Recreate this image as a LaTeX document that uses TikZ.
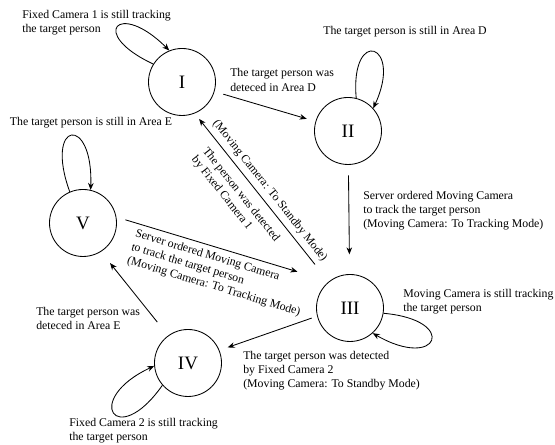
\documentclass[tikz,border=0pt]{standalone}
\usepackage{fontspec}
\setmainfont{Liberation Serif}
\usetikzlibrary{arrows.meta}

\begin{document}
\begin{tikzpicture}[>={Stealth[length=5pt,width=4pt]}, font=\fontsize{8.4}{10}\selectfont]
	\useasboundingbox (0,0) rectangle (13.875,11.125);

	\begin{scope}[every node/.style={circle,draw,line width=0.6pt,minimum size=1.675cm,inner sep=0pt,font=\fontsize{13.5}{16}\selectfont}]
		\node (I) at (4.55,9.075) {I};
		\node (II) at (8.70,7.85) {II};
		\node (III) at (8.75,3.425) {III};
		\node (IV) at (4.70,2.05) {IV};
		\node (V) at (2.075,5.55) {V};
	\end{scope}

	\begin{scope}[every node/.style={align=left,inner sep=0pt}]
		\node[anchor=west] (tI) at (0.55,10.5625) {Fixed Camera 1 is still tracking\\the target person};
		\node (tII) at (10.125,10.325) {The target person is still in Area D};
		\node[anchor=west] (tIII) at (5.75,9.125) {The target person was\\deteced in Area D};
		\node (tV) at (2.275,8.05) {The target person is still in Area E};
		\node[anchor=west] (tIIIII) at (9.075,5.85) {Server ordered Moving Camera\\to track the target person\\(Moving Camera: To Tracking Mode)};
		\node[anchor=west] (tIIIloop) at (10.075,3.5875) {Moving Camera is still tracking\\the target person};
		\node[anchor=west] (tIVV) at (0.9,3.1625) {The target person was\\deteced in Area E};
		\node[anchor=west] (tIIIIV) at (6.075,1.85) {The target person was detected\\by Fixed Camera 2\\(Moving Camera: To Standby Mode)};
		\node[anchor=west] (tIV) at (1.725,0.3625) {Fixed Camera 2 is still tracking\\the target person};
	\end{scope}

	\begin{scope}[every edge/.style={draw=black,line width=0.6pt}]
		% transitions
		\path [->] (I) edge [shorten <=6.5pt, shorten >=6.5pt] (II);
		\path [->] (II) edge [shorten <=7.5pt, shorten >=14pt] (III);
		\path [->] (III.129) edge [shorten <=15.6pt, shorten >=5pt]
			node [sloped, above, pos=0.5] (lIIIa) {(Moving Camera: To Standby Mode)}
			node [sloped, below=3pt, pos=0.57, align=left] (lIIIb) {The person was detected\\by Fixed Camera 1} (I.-68.5);
		\path [->] (V.10) edge [shorten <=6.7pt, shorten >=23.5pt]
			node [sloped, below, pos=0.51, align=left] (lVIII) {Server ordered Moving Camera\\to track the target person\\(Moving Camera: To Tracking Mode)} (III.128);
		\path [->] (III.194.7) edge [shorten <=4.1pt, shorten >=6.2pt] (IV.22.3);
		\path [->] (IV.126.2) edge [shorten <=12.3pt, shorten >=10.3pt] (V.-58.6);
		% self loops
		\path [->] (I.148) edge [out=155, in=135, distance=1.8cm] (I.112);
		\path [->] (II.76) edge [out=95, in=65, distance=1.8cm] (II.42);
		\path [->] (V.113) edge [out=110, in=88, distance=1.9cm] (V.77);
		\path [->] (III.-9) edge [out=-5, in=-30, distance=1.9cm] (III.-48);
		\path [->] (IV.221) edge [out=235, in=205, distance=2cm] (IV.185);
	\end{scope}
\end{tikzpicture}
\end{document}
